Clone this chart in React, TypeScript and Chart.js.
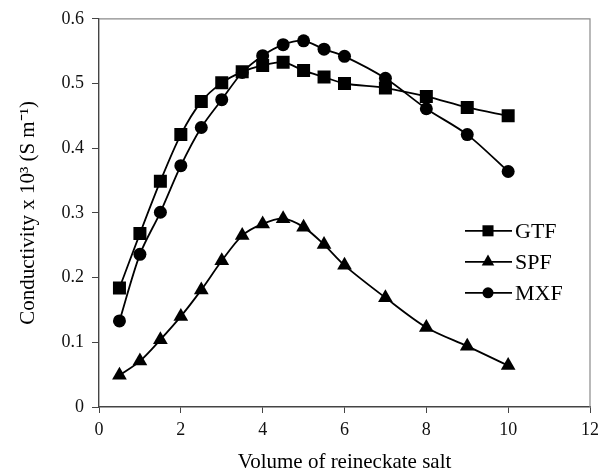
import React, { useEffect, useRef } from "react";
import { Chart, registerables } from "chart.js";

Chart.register(...registerables);

const volumes = [0.5, 1, 1.5, 2, 2.5, 3, 3.5, 4, 4.5, 5, 5.5, 6, 7, 8, 9, 10];
const gtf = [0.184, 0.268, 0.349, 0.421, 0.472, 0.501, 0.518, 0.528, 0.533, 0.520, 0.510, 0.500, 0.493, 0.480, 0.463, 0.450];
const spf = [0.049, 0.071, 0.104, 0.140, 0.181, 0.226, 0.265, 0.283, 0.291, 0.278, 0.251, 0.219, 0.169, 0.123, 0.094, 0.064];
const mxf = [0.133, 0.236, 0.301, 0.373, 0.432, 0.475, 0.517, 0.543, 0.560, 0.566, 0.553, 0.542, 0.508, 0.461, 0.421, 0.364];
const seriesNames = ["GTF", "SPF", "MXF"];
const seriesMarkers = ["rect", "triangle", "circle"];
const seriesRadius = [9.2, 8.5, 6.5];
const xTitle = "Volume of reineckate salt";
const yTitle = "Conductivity x 10\u00B3 (S m\u207B\u00B9)";

const FONT = "'Liberation Serif', 'Times New Roman', serif";

function drawMarker(ctx: CanvasRenderingContext2D, style: string, r: number, x: number, y: number) {
  ctx.beginPath();
  if (style === "rect") {
    const s = Math.SQRT1_2 * r;
    ctx.rect(x - s, y - s, 2 * s, 2 * s);
  } else if (style === "triangle") {
    ctx.moveTo(x, y - r);
    ctx.lineTo(x - r * 0.866, y + r * 0.5);
    ctx.lineTo(x + r * 0.866, y + r * 0.5);
    ctx.closePath();
  } else {
    ctx.arc(x, y, r, 0, Math.PI * 2);
  }
  ctx.fill();
}

const framePlugin = {
  id: "frame",
  afterDraw(chart: any) {
    const { ctx, chartArea } = chart;
    ctx.save();
    ctx.strokeStyle = "#8a8a8a";
    ctx.lineWidth = 1.2;
    ctx.beginPath();
    ctx.moveTo(chartArea.left, chartArea.top);
    ctx.lineTo(chartArea.right, chartArea.top);
    ctx.lineTo(chartArea.right, chartArea.bottom);
    ctx.stroke();
    ctx.restore();
  },
};

const legendPlugin = {
  id: "customLegend",
  afterDraw(chart: any) {
    const { ctx, chartArea } = chart;
    const x0 = chartArea.left + 366;
    const y0 = chartArea.top + 212;
    const gap = 31;
    ctx.save();
    chart.data.datasets.forEach((ds: any, i: number) => {
      const y = y0 + i * gap;
      ctx.strokeStyle = "#000";
      ctx.lineWidth = 1.8;
      ctx.beginPath();
      ctx.moveTo(x0, y);
      ctx.lineTo(x0 + 47, y);
      ctx.stroke();
      ctx.fillStyle = "#000";
      drawMarker(ctx, ds.pointStyle, ds.pointRadius * 0.85, x0 + 23, y);
      ctx.fillStyle = "#000";
      ctx.font = `22px ${FONT}`;
      ctx.textBaseline = "middle";
      ctx.textAlign = "left";
      ctx.fillText(ds.label, x0 + 50, y + 1);
    });
    ctx.restore();
  },
};

export default function App() {
  const ref = useRef<HTMLCanvasElement>(null);
  useEffect(() => {
    document.body.style.margin = "0";
    const series = [gtf, spf, mxf];
    const chart = new Chart(ref.current!, {
      type: "line",
      data: {
        datasets: series.map((vals, i) => ({
          label: seriesNames[i],
          data: volumes.map((v, j) => ({ x: v, y: vals[j] })),
          borderColor: "#000",
          backgroundColor: "#000",
          borderWidth: 1.8,
          pointStyle: seriesMarkers[i] as any,
          pointRadius: seriesRadius[i],
          pointBackgroundColor: "#000",
          pointBorderWidth: 0,
          tension: 0.3,
        })),
      },
      options: {
        animation: false,
        responsive: false,
        layout: { padding: { top: 18, right: 10, left: 0, bottom: 0 } },
        plugins: { legend: { display: false }, tooltip: { enabled: false } },
        scales: {
          x: {
            type: "linear",
            min: 0,
            max: 12,
            afterFit: (s: any) => { s.height = 68; },
            ticks: { stepSize: 2, color: "#111", font: { family: FONT, size: 18 }, padding: 6 },
            grid: { drawOnChartArea: false, drawTicks: true, tickLength: 6, color: "#444" },
            border: { color: "#444", width: 1.4 },
            title: { display: true, text: xTitle, color: "#000", font: { family: FONT, size: 21 }, padding: { top: 0, bottom: 0 } },
          },
          y: {
            min: 0,
            max: 0.6,
            afterFit: (s: any) => { s.width = 99; },
            ticks: { stepSize: 0.1, color: "#111", font: { family: FONT, size: 18 }, padding: 8 },
            grid: { drawOnChartArea: false, drawTicks: true, tickLength: 7, color: "#444" },
            border: { color: "#444", width: 1.4 },
            title: { display: true, text: yTitle, color: "#000", font: { family: FONT, size: 21 }, padding: { top: 16, bottom: 0 } },
          },
        },
      },
      plugins: [framePlugin, legendPlugin],
    });
    return () => chart.destroy();
  }, []);
  return (
    <div style={{ width: 605, height: 475 }}>
      <canvas ref={ref} width={605} height={475} />
    </div>
  );
}
